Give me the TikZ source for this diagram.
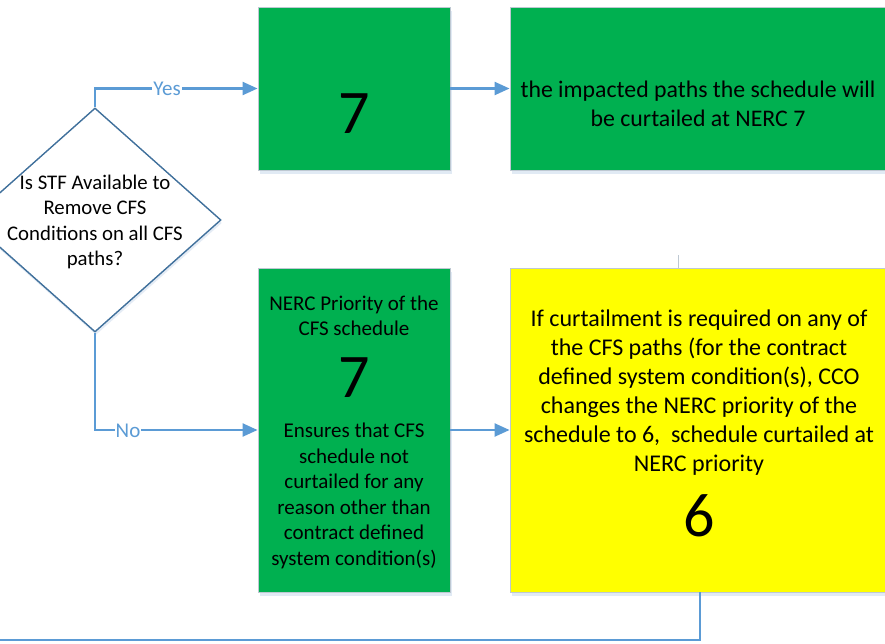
\documentclass[tikz,border=0pt]{standalone}
\usepackage{fontspec}
\setmainfont{Carlito}
\usetikzlibrary{arrows.meta,shapes.geometric,shadows}
\definecolor{flowblue}{RGB}{91,155,213}
\definecolor{dmdblue}{RGB}{65,113,156}
\definecolor{boxgreen}{RGB}{0,176,80}
\definecolor{boxyellow}{RGB}{255,255,0}
\definecolor{boxedge}{RGB}{190,200,210}
\definecolor{shadowc}{RGB}{170,195,225}
\newcommand\setfs[2]{\fontsize{#1}{#2}\selectfont}
\tikzset{
  boxbase/.style={draw=boxedge, line width=0.9pt, inner sep=0pt,
    drop shadow={shadow xshift=2pt, shadow yshift=-4pt, opacity=0.35, fill=shadowc}},
  greenbox/.style={boxbase, fill=boxgreen},
  yellowbox/.style={boxbase, fill=boxyellow},
  decision/.style={diamond, draw=dmdblue, line width=1.4pt, fill=white, inner sep=0pt,
    drop shadow={shadow xshift=1pt, shadow yshift=-3pt, opacity=0.3, fill=shadowc}},
  flow/.style={draw=flowblue, line width=2.3pt, -{Triangle[length=15pt,width=13pt]}},
  plainflow/.style={draw=flowblue, line width=2.3pt},
  lbl/.style={fill=white, text=flowblue, inner sep=1pt, font=\setfs{21}{24}},
  bodytext/.style={align=center, inner sep=0pt, text=black},
  bignum/.style={inner sep=0pt, text=black, font=\setfs{62}{62}},
}
\begin{document}
\begin{tikzpicture}[x=1pt,y=-1pt]
\clip (0,0) rectangle (885,643);
\fill[white] (0,0) rectangle (885,643);

% decision
\node[decision, minimum width=252pt, minimum height=224pt] (d) at (95,220) {};
\node[bodytext, font=\setfs{20.8}{25.5}] (dt) at (95,222)
  {Is STF Available to\\Remove CFS\\Conditions on all CFS\\paths?};

% boxes
\node[greenbox, minimum width=192pt, minimum height=163pt] (b1) at (354,88.5) {};
\node[bignum] (n1) at (354,114) {7};

\node[greenbox, minimum width=380pt, minimum height=163pt] (b2) at (700,88.5) {};
\node[bodytext, font=\setfs{23.8}{29}] (t2) at (698,104)
  {the impacted paths the schedule will\\be curtailed at NERC 7};

\node[greenbox, minimum width=192pt, minimum height=324pt] (b3) at (354,430) {};
\node[bodytext, font=\setfs{21}{25.5}] (t3a) at (354,316)
  {NERC Priority of the\\CFS schedule};
\node[bignum] (n3) at (354,378) {7};
\node[bodytext, font=\setfs{21}{25.5}] (t3b) at (354,496)
  {Ensures that CFS\\schedule not\\curtailed for any\\reason other than\\contract defined\\system condition(s)};

\node[yellowbox, minimum width=380pt, minimum height=324pt] (b4) at (700,430) {};
\node[bodytext, font=\setfs{24}{29}] (t4) at (699,393)
  {If curtailment is required on any of\\the CFS paths (for the contract\\defined system condition(s), CCO\\changes the NERC priority of the\\schedule to 6,\ \ schedule curtailed at\\NERC priority};
\node[bignum] (n4) at (699,516) {6};

% stray grey tick above yellow box
\coordinate (gtop) at (678,255);
\draw[boxedge, line width=0.9pt] (gtop) -- (gtop |- b4.north);

% connectors
\draw[flow] (d.north) |- (b1.west);
\node[lbl] (yes) at (167,89) {Yes};
\draw[flow] (b1.east) -- (b2.west);

\draw[flow] (d.south) |- (b3.west);
\node[lbl] (no) at (128,431) {No};
\draw[flow] (b3.east) -- (b4.west);

\coordinate (loopend) at (-10,640);
\draw[plainflow] (b4.south) |- (loopend);
\end{tikzpicture}
\end{document}
